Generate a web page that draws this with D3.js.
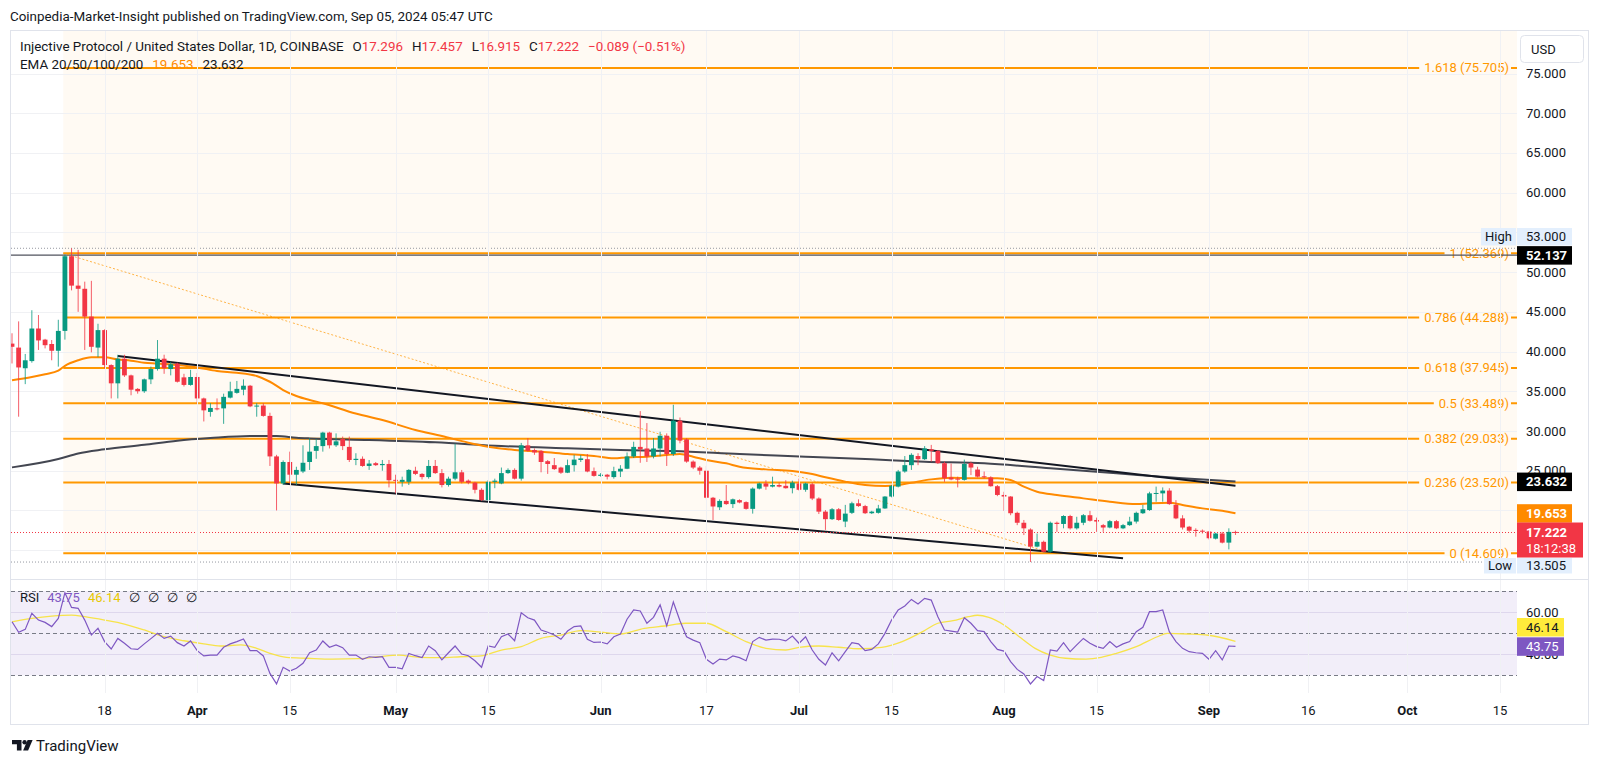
<!DOCTYPE html>
<html><head><meta charset="utf-8">
<script src="https://cdn.jsdelivr.net/npm/d3@7"></script>
<style>
html,body{margin:0;padding:0;background:#fff;}
svg{display:block;font-family:Roboto,"Noto Sans",sans-serif;}
</style></head><body>
<svg id="c" width="1600" height="764"></svg>
<script>
// ---------------- DATA ----------------
const startDate = "2024-03-04";
const opens = [41.0,40.5,37.9,38.8,42.9,41.5,40.95,40.1,42.6,52.0,
48.3,47.9,44.4,40.5,42.7,38.3,36.0,39.1,37.0,35.3,
35.0,36.5,37.8,39.1,37.8,38.5,36.75,35.8,36.8,34.1,
32.4,32.85,32.85,34.2,34.8,35.2,35.7,33.1,33.2,31.9,
26.8,23.4,26.1,24.5,24.9,26.1,27.5,28.1,29.8,28.2,
29.0,28.0,26.35,26.5,25.6,25.95,25.7,25.85,23.85,23.6,
23.6,25.0,24.6,24.2,25.6,24.7,23.2,24.0,24.8,23.75,
23.5,22.6,21.3,23.6,23.4,24.7,25.1,24.0,28.2,27.6,
27.5,26.2,25.7,25.4,24.75,25.7,26.35,26.45,24.95,24.35,
24.5,24.2,24.9,25.25,26.8,28.0,27.8,26.8,27.8,29.4,
27.1,31.3,28.95,26.15,25.4,25.0,21.6,20.4,21.2,20.8,
21.3,21.05,20.2,22.75,23.4,23.0,23.2,23.1,22.8,23.4,
22.6,23.3,21.5,19.85,18.9,20.15,18.6,19.7,20.9,20.55,
19.65,19.7,20.25,21.75,23.0,24.9,25.7,26.85,26.45,27.7,
27.5,25.95,24.15,24.0,23.85,25.95,25.15,24.3,24.15,23.05,
21.95,21.75,19.7,18.45,17.6,15.45,16.05,14.8,18.45,18.3,
19.3,17.75,18.45,19.4,18.8,18.15,17.85,18.65,17.75,18.15,
18.6,19.65,20.05,22.1,22.15,22.5,20.7,19.0,17.95,17.55,
17.45,17.35,16.45,17.1,15.95,17.296];
const highs = [42.3,43.8,39.7,45.2,44.6,41.6,41.45,44.0,52.2,53.0,
52.8,48.8,48.9,43.5,42.8,38.4,39.6,39.6,37.1,35.4,
36.6,38.1,41.45,39.6,38.7,38.6,37.2,37.7,37.3,34.2,
33.5,34.1,34.7,36.2,36.3,36.5,35.8,33.5,33.5,32.3,
27.0,26.3,27.4,25.5,28.2,29.1,29.0,29.9,29.9,29.7,
29.3,29.3,27.2,26.8,26.35,26.1,26.35,26.35,24.5,24.25,
25.2,25.5,24.7,26.35,26.35,25.2,24.25,28.4,25.1,23.9,
23.6,22.8,23.83,24.0,25.4,25.3,25.3,28.5,29.1,27.8,
27.6,26.35,26.6,25.5,26.4,27.0,26.97,27.1,25.4,24.7,
24.6,25.5,25.7,27.3,28.65,32.5,31.0,29.1,29.9,29.7,
33.3,31.7,29.1,26.3,25.6,25.6,21.7,21.4,23.2,21.5,
21.4,21.15,22.9,23.5,23.8,24.25,23.5,23.8,23.75,24.0,
23.5,23.5,21.65,20.05,20.3,20.3,20.7,21.1,21.4,20.7,
19.95,20.7,21.8,23.2,25.1,26.85,27.2,27.2,28.1,28.25,
27.6,26.15,25.9,24.25,26.4,26.15,25.5,24.9,24.3,23.2,
22.35,21.8,19.85,18.8,17.75,17.1,16.2,18.6,18.6,19.4,
19.45,19.2,19.55,19.95,19.1,18.3,18.8,18.8,18.3,19.2,
19.85,20.7,22.35,23.0,22.9,22.8,21.3,19.4,18.05,17.75,
17.6,17.4,17.2,17.3,17.75,17.457];
const lows = [38.5,31.8,35.9,38.6,40.2,40.4,38.9,38.1,41.5,47.7,
45.0,40.2,39.9,39.3,37.9,34.1,34.1,36.8,34.5,34.7,
34.8,35.9,37.6,37.2,37.0,36.1,35.6,35.7,33.5,31.2,
31.8,32.6,30.9,34.1,34.7,34.5,33.0,31.8,31.8,25.6,
20.0,23.2,23.4,23.2,24.7,25.1,26.5,27.4,27.8,28.0,
27.6,26.1,25.7,25.5,25.1,25.6,25.0,22.9,22.15,23.0,
23.2,24.45,23.9,24.0,24.6,22.9,23.0,23.8,23.4,23.3,
22.15,21.2,21.2,22.8,23.3,24.6,23.9,23.75,27.4,27.0,
24.8,24.6,25.1,24.6,24.7,24.9,26.1,24.8,24.25,24.25,
23.9,24.0,24.2,25.2,26.6,26.0,26.1,26.55,26.8,25.6,
26.85,28.45,26.0,25.2,24.5,21.4,18.8,20.05,20.7,20.3,
20.9,20.1,19.6,22.65,22.6,22.9,22.9,22.75,22.15,22.5,
22.35,21.3,19.55,17.55,18.8,18.7,17.9,19.55,20.45,19.55,
19.55,19.6,20.2,21.65,22.9,24.75,25.1,25.7,26.35,26.15,
25.85,23.6,23.8,22.9,23.75,24.45,24.15,24.05,22.99,21.8,
19.95,19.4,18.15,16.9,13.505,15.35,14.7,14.7,17.3,17.75,
17.6,17.6,18.15,18.6,17.3,17.3,17.75,17.65,17.65,18.05,
18.35,19.55,19.95,21.1,21.1,20.7,18.9,17.6,17.2,16.7,
17.1,16.35,16.35,15.85,15.1,16.915];
const closes = [40.6,38.0,38.9,42.9,41.4,40.8,40.1,42.6,52.0,48.3,
47.9,44.4,40.6,42.7,38.3,36.0,39.1,37.0,35.2,35.0,
36.5,37.8,39.1,37.9,38.4,36.2,35.8,36.8,34.1,32.6,
32.9,32.75,34.3,35.0,35.3,35.7,33.1,33.2,31.9,26.8,
23.4,26.1,24.5,25.1,26.0,27.4,28.1,29.8,28.2,28.7,
28.1,26.35,26.5,25.6,25.9,25.7,25.85,23.8,23.75,23.85,
25.1,24.6,24.2,25.6,24.7,23.2,24.0,24.8,23.6,23.5,
22.6,21.3,23.6,23.75,24.7,25.1,24.0,28.2,27.5,27.3,
26.1,25.85,25.2,24.75,25.7,26.4,26.55,24.9,24.35,24.5,
24.25,24.95,25.25,26.8,28.0,27.7,26.8,27.8,29.4,27.1,
31.3,28.8,26.15,25.4,25.0,21.6,20.5,21.2,20.8,21.4,
21.0,20.2,22.75,23.4,23.0,23.2,23.0,22.8,23.5,22.6,
23.4,21.5,19.85,18.9,20.15,18.8,19.6,20.9,20.55,19.65,
19.85,20.25,21.75,23.1,24.9,25.7,27.0,26.45,27.8,27.5,
25.95,24.05,23.9,23.9,25.85,25.4,24.25,24.2,23.05,21.95,
21.75,19.65,18.45,17.75,15.45,16.05,14.8,18.45,18.3,19.3,
17.75,18.45,19.4,18.7,18.6,17.85,18.65,17.75,18.15,18.6,
19.7,20.15,22.15,22.2,22.5,20.8,19.0,17.85,17.45,17.45,
17.35,16.5,17.1,15.95,17.3,17.222];

const rsiValues = [55.4,50.4,51.8,59.4,56.2,55.1,53.1,57.0,69.2,62.2,
61.8,56.2,49.1,52.3,46.0,42.5,47.5,45.2,42.6,42.3,
44.9,47.4,49.9,47.5,48.6,45.5,43.9,46.3,41.7,39.2,
39.6,39.6,43.3,44.9,46.0,47.2,41.7,41.7,39.2,30.9,
25.9,33.8,32.0,33.3,35.7,40.7,42.0,46.3,43.3,44.4,
43.1,39.6,39.6,37.6,38.8,38.5,38.8,33.8,33.8,33.1,
40.4,39.3,38.4,43.9,41.7,37.3,40.7,43.9,40.1,39.3,
36.9,33.8,43.9,43.3,48.3,49.6,46.4,59.7,57.3,56.2,
51.5,50.4,49.1,47.1,51.0,53.1,53.4,47.1,45.6,45.8,
44.9,48.3,49.6,56.6,61.0,60.5,54.7,57.5,63.4,53.4,
64.8,55.9,48.3,46.7,45.5,37.6,35.4,37.7,37.3,39.2,
38.4,36.9,46.0,48.0,46.7,47.2,47.1,46.3,48.6,45.2,
48.3,42.0,37.6,34.9,40.7,36.9,41.2,45.5,44.9,41.7,
42.3,44.9,49.9,56.2,61.0,62.9,66.0,63.8,66.5,65.7,
57.8,51.5,51.0,50.5,57.3,54.7,51.2,50.7,46.0,42.3,
41.5,36.5,32.8,30.6,25.9,29.4,27.5,42.0,41.5,45.5,
41.2,44.4,47.5,45.2,43.6,42.8,46.0,43.3,44.9,46.0,
50.7,52.8,60.2,60.2,61.0,50.7,46.0,42.8,41.2,40.7,
40.4,37.6,41.7,37.3,43.9,43.75];

const rsiMaDays = [0,3,6,9,11,14,17,20,23,26,29,31.5,34.6,37,39,41.5,44.6,48.5,52.4,55.4,
58.5,61.6,64.7,67.8,70.9,74,77,80,83,86,89,92,95.6,98.7,101.8,104.9,108,111,114,117,
119,122,125,128,131.5,134.6,137.7,140,142.3,144.6,146,147.7,150,152.3,154.7,157,159.3,162.4,164.7,167,
170,173.2,174.7,177.8,180.9,185];
const rsiMaValues = [55.4,57.0,58.1,58.6,57.8,56.2,54.3,51.5,48.3,46.4,44.9,43.9,44.4,42.8,40.4,38.5,38.1,37.7,37.9,38.8,
39.6,38.5,38.4,38.8,39.2,42.0,43.6,47.5,49.1,51.2,50.5,49.6,52.3,53.4,54.7,54.7,50.7,46.0,42.8,42.0,
43.3,43.9,43.3,42.6,43.3,46.0,50.7,54.7,55.9,57.8,58.5,57.5,53.9,48.3,42.8,39.6,38.1,37.7,38.5,40.4,
43.6,48.3,49.9,49.6,49.0,46.14];

const ema50Days = [0,3,5,7,8,10,12,14,16,18,20,22,25,28,31,34,37,39,41,43,45,47,51,56,61,65,69,72,76,80,84,88,91,93,96,99,101,103,105,108,110,114,118,121,123,126,129,132,134,136,139,142,145,149,151,153,155,158,162,166,170,172,175,177,180,183,185];
const ema50Values = [36.4,36.8,37.15,37.6,38.2,38.9,39.27,39.27,39.0,38.85,38.6,38.5,38.3,38.0,37.55,37.34,36.92,36.2,35.16,34.4,33.9,33.5,32.43,31.38,30.13,29.37,28.53,28.03,27.61,27.4,27.1,26.85,26.56,26.68,26.77,26.98,27.1,26.77,26.35,25.93,25.51,25.17,24.96,24.58,24.17,23.62,23.2,23.07,23.2,23.49,23.91,24.12,24.04,24.04,23.83,22.99,22.36,21.94,21.52,21.1,20.8,20.89,20.97,20.68,20.26,19.97,19.653];
const ema200Days = [0,7,10,14,20,25,30,36,40,43,45,54,64,74,84,92,100,110,120,130,138,147,157,167,177,185];
const ema200Values = [25.42,26.47,27.18,27.69,28.27,28.78,29.11,29.37,29.37,29.16,29.07,28.87,28.57,28.11,27.82,27.61,27.48,27.1,26.77,26.43,26.14,25.93,25.3,24.67,24.04,23.632];

const fibRatios = ["1.618","1","0.786","0.618","0.5","0.382","0.236","0"];
const fibValues = [75.705,52.369,44.288,37.945,33.489,29.033,23.520,14.609];
const fibStartDay = 7.75, fibEndDay = 157.3;

const upperTrendDays = [16, 185];
const upperTrendValues = [39.45, 23.1];
const lowerTrendDays = [41, 168];
const lowerTrendValues = [23.4, 13.98];

const priceTicks = [75,70,65,60,55,50,45,40,35,30,25,20,15];
const priceLabelTicks = [75,70,65,60,50,45,40,35,30,25];
const rsiTicks = [60,40];
const timeTickDates = ["2024-03-18","2024-04-01","2024-04-15","2024-05-01","2024-05-15","2024-06-01","2024-06-17","2024-07-01","2024-07-15","2024-08-01","2024-08-15","2024-09-01","2024-09-16","2024-10-01","2024-10-15"];
const timeTickLabels = ["18","Apr","15","May","15","Jun","17","Jul","15","Aug","15","Sep","16","Oct","15"];

const legendOHLC = [["O", 17.296], ["H", 17.457], ["L", 16.915], ["C", 17.222]];
const lastClose = 17.222, visHigh = 53.0, visLow = 13.505, hLine = 52.137;
const ema50Last = 19.653, ema200Last = 23.632, rsiLast = 43.75, rsiMaLast = 46.14;

// ---------------- LAYOUT ----------------
const svg = d3.select("#c");
const L = 11, R = 1517, mainTop = 31, mainBot = 579, rsiTop = 579, rsiBot = 693;
const GREEN = "#089981", RED = "#f23645", ORANGE = "#ff9800", EMA_OR = "#ff8a00", DARK = "#131722";
const BEIGE = "#fffaf3";
const t0 = new Date(startDate + "T00:00:00Z");
const dayDate = d => new Date(t0.getTime() + d * 86400000);

const x = d3.scaleUtc().domain([new Date("2024-03-18T00:00:00Z"), new Date("2024-10-15T00:00:00Z")]).range([104.6, 1500]);
const y = d3.scaleLinear().domain([30, 75]).range([431, 73.5]);
const yr = d3.scaleLinear().domain([30, 70]).range([675.3, 591]);

svg.append("rect").attr("width", 1600).attr("height", 764).attr("fill", "#fff");

const defs = svg.append("defs");
defs.append("clipPath").attr("id", "cm").append("rect").attr("x", L).attr("y", mainTop).attr("width", R - L).attr("height", mainBot - mainTop);
defs.append("clipPath").attr("id", "cr").append("rect").attr("x", L).attr("y", rsiTop).attr("width", R - L).attr("height", rsiBot - rsiTop);

// header
svg.append("text").attr("x", 10).attr("y", 21).attr("font-size", 13.4).attr("fill", DARK)
  .text("Coinpedia-Market-Insight published on TradingView.com, Sep 05, 2024 05:47 UTC");

// frame
svg.append("rect").attr("x", 10.5).attr("y", 30.5).attr("width", 1578).attr("height", 694)
  .attr("fill", "#fff").attr("stroke", "#e0e3eb");

const gm = svg.append("g").attr("clip-path", "url(#cm)");
const gr = svg.append("g").attr("clip-path", "url(#cr)");

// fib background
const fx0 = x(dayDate(fibStartDay));
gm.append("rect").attr("x", fx0).attr("y", mainTop).attr("width", R - fx0).attr("height", y(fibValues[7]) - mainTop).attr("fill", BEIGE);

// grids
priceTicks.forEach(p => gm.append("line").attr("x1", L).attr("x2", R).attr("y1", Math.round(y(p)) + 0.5).attr("y2", Math.round(y(p)) + 0.5).attr("stroke", "#f0f1f4"));
rsiTicks.forEach(p => gr.append("line").attr("x1", L).attr("x2", R).attr("y1", Math.round(yr(p)) + 0.5).attr("y2", Math.round(yr(p)) + 0.5).attr("stroke", "#e9e6f2"));
timeTickDates.forEach(d => {
  const xx = Math.round(x(new Date(d + "T00:00:00Z"))) + 0.5;
  svg.append("line").attr("x1", xx).attr("x2", xx).attr("y1", mainTop).attr("y2", rsiBot).attr("stroke", "#f0f1f4");
});

// RSI band
gr.append("rect").attr("x", L).attr("y", yr(70)).attr("width", R - L).attr("height", yr(30) - yr(70)).attr("fill", "#7e57c2").attr("fill-opacity", 0.1);
[70, 50, 30].forEach(v => gr.append("line").attr("x1", L).attr("x2", R).attr("y1", Math.round(yr(v)) + 0.5).attr("y2", Math.round(yr(v)) + 0.5)
  .attr("stroke", "#787b86").attr("stroke-dasharray", "4,3"));

// dotted high/low lines
gm.append("line").attr("x1", L).attr("x2", R).attr("y1", y(visHigh)).attr("y2", y(visHigh)).attr("stroke", "#9598a1").attr("stroke-dasharray", "1,2");
gm.append("line").attr("x1", L).attr("x2", R).attr("y1", y(visLow)).attr("y2", y(visLow)).attr("stroke", "#9598a1").attr("stroke-dasharray", "1,2");

// fib lines + labels
fibValues.forEach((v, i) => {
  const yy = y(v);
  gm.append("line").attr("x1", fx0).attr("x2", R).attr("y1", yy).attr("y2", yy).attr("stroke", ORANGE).attr("stroke-width", 2);
  const t = gm.append("text").attr("x", 1509).attr("y", yy).attr("text-anchor", "end").attr("dominant-baseline", "central")
    .attr("font-size", 13).attr("fill", ORANGE).text(`${fibRatios[i]} (${v.toFixed(3)})`);
  const bb = t.node().getBBox();
  gm.insert("rect", () => t.node()).attr("x", bb.x - 5).attr("y", yy - 3).attr("width", bb.width + 7).attr("height", 6).attr("fill", BEIGE);
});

// horizontal ray at 52.137
gm.append("line").attr("x1", L).attr("x2", R).attr("y1", y(hLine)).attr("y2", y(hLine)).attr("stroke", "#50535e").attr("stroke-width", 1.2);

// fib diagonal dotted
gm.append("line").attr("x1", fx0).attr("y1", y(fibValues[1])).attr("x2", x(dayDate(fibEndDay))).attr("y2", y(fibValues[7]))
  .attr("stroke", ORANGE).attr("stroke-width", 1).attr("stroke-dasharray", "2,2").attr("opacity", 0.7);

// EMA lines
const emaLine = d3.line().x(d => x(dayDate(d[0]))).y(d => y(d[1])).curve(d3.curveMonotoneX);
gm.append("path").datum(ema200Days.map((d, i) => [d, ema200Values[i]])).attr("d", emaLine)
  .attr("fill", "none").attr("stroke", "#434651").attr("stroke-width", 2);
gm.append("path").datum(ema50Days.map((d, i) => [d, ema50Values[i]])).attr("d", emaLine)
  .attr("fill", "none").attr("stroke", EMA_OR).attr("stroke-width", 2);

// trend lines
gm.append("line").attr("x1", x(dayDate(upperTrendDays[0]))).attr("y1", y(upperTrendValues[0])).attr("x2", x(dayDate(upperTrendDays[1]))).attr("y2", y(upperTrendValues[1]))
  .attr("stroke", "#131722").attr("stroke-width", 2);
gm.append("line").attr("x1", x(dayDate(lowerTrendDays[0]))).attr("y1", y(lowerTrendValues[0])).attr("x2", x(dayDate(lowerTrendDays[1]))).attr("y2", y(lowerTrendValues[1]))
  .attr("stroke", "#131722").attr("stroke-width", 2);

// close line
gm.append("line").attr("x1", L).attr("x2", R).attr("y1", y(lastClose)).attr("y2", y(lastClose)).attr("stroke", RED).attr("stroke-dasharray", "1,2");

// candles
const cw = 4.8;
const candles = opens.map((o, i) => ({ d: dayDate(i), o, h: highs[i], l: lows[i], c: closes[i] }));
const cg = gm.append("g");
candles.forEach(k => {
  const col = k.c >= k.o ? GREEN : RED;
  const cx = x(k.d);
  cg.append("line").attr("x1", cx).attr("x2", cx).attr("y1", y(k.h)).attr("y2", y(k.l)).attr("stroke", col).attr("stroke-width", 1).attr("stroke-opacity", 0.8);
  const top = y(Math.max(k.o, k.c)), bot = y(Math.min(k.o, k.c));
  cg.append("rect").attr("x", cx - cw / 2).attr("y", top).attr("width", cw).attr("height", Math.max(1, bot - top)).attr("fill", col);
});

// RSI lines
gr.append("path").datum(rsiMaDays.map((d, i) => [d, rsiMaValues[i]]))
  .attr("d", d3.line().x(d => x(dayDate(d[0]))).y(d => yr(d[1])).curve(d3.curveMonotoneX))
  .attr("fill", "none").attr("stroke", "#f7e34a").attr("stroke-width", 1.3);
gr.append("path").datum(rsiValues.map((v, i) => [i, v]))
  .attr("d", d3.line().x(d => x(dayDate(d[0]))).y(d => yr(d[1])))
  .attr("fill", "none").attr("stroke", "#7e57c2").attr("stroke-width", 1.2);

// pane separator
svg.append("line").attr("x1", 10.5).attr("x2", 1588.5).attr("y1", 579.5).attr("y2", 579.5).attr("stroke", "#e0e3eb");

// legend
const lg1 = svg.append("text").attr("y", 51).attr("font-size", 13.4).attr("fill", DARK);
lg1.append("tspan").attr("x", 20).text("Injective Protocol / United States Dollar, 1D, COINBASE");
legendOHLC.forEach(([k, v]) => {
  lg1.append("tspan").attr("dx", 9).attr("fill", DARK).text(k);
  lg1.append("tspan").attr("fill", RED).text(v.toFixed(3));
});
lg1.append("tspan").attr("dx", 9).attr("fill", RED).text("\u22120.089 (\u22120.51%)");
const lg2 = svg.append("text").attr("y", 69).attr("font-size", 13.4).attr("fill", DARK);
lg2.append("tspan").attr("x", 20).text("EMA 20/50/100/200");
lg2.append("tspan").attr("dx", 9).attr("fill", EMA_OR).text(ema50Last.toFixed(3));
lg2.append("tspan").attr("dx", 9).attr("fill", DARK).text(ema200Last.toFixed(3));

const lg3 = svg.append("text").attr("y", 601.5).attr("font-size", 13).attr("fill", DARK);
lg3.append("tspan").attr("x", 20).text("RSI");
lg3.append("tspan").attr("dx", 8).attr("fill", "#7e57c2").text(rsiLast.toFixed(2));
lg3.append("tspan").attr("dx", 8).attr("fill", "#e8c800").text(rsiMaLast.toFixed(2));
[0, 1, 2, 3].forEach(() => lg3.append("tspan").attr("dx", 8).attr("fill", DARK).text("\u2205"));

// price axis labels
priceLabelTicks.forEach(p => svg.append("text").attr("x", 1526).attr("y", y(p)).attr("dominant-baseline", "central")
  .attr("font-size", 13).attr("fill", DARK).text(p.toFixed(3)));
rsiTicks.forEach(p => svg.append("text").attr("x", 1526).attr("y", yr(p)).attr("dominant-baseline", "central")
  .attr("font-size", 13).attr("fill", DARK).text(p.toFixed(2)));

// USD box
svg.append("rect").attr("x", 1520.5).attr("y", 35.5).attr("width", 63).attr("height", 27).attr("rx", 4).attr("fill", "#fff").attr("stroke", "#e0e3eb");
svg.append("text").attr("x", 1531).attr("y", 49).attr("dominant-baseline", "central").attr("font-size", 13).attr("fill", DARK).text("USD");

// tags
function tag(x0, y0, w, h, bg, fg, txt, bold, anchor) {
  svg.append("rect").attr("x", x0).attr("y", y0).attr("width", w).attr("height", h).attr("fill", bg);
  svg.append("text").attr("x", anchor === "middle" ? x0 + w / 2 : x0 + 9).attr("y", y0 + h / 2).attr("dominant-baseline", "central")
    .attr("text-anchor", anchor === "middle" ? "middle" : "start")
    .attr("font-size", 13).attr("font-weight", bold ? 700 : 400).attr("fill", fg).text(txt);
}
tag(1481, 228, 35, 17.5, "#e3effd", DARK, "High", false, "middle");
tag(1517, 228, 55, 17.5, "#e3effd", DARK, visHigh.toFixed(3), false);
tag(1517, y(hLine) - 9, 55, 18.5, "#000", "#fff", hLine.toFixed(3), true);
tag(1517, y(ema200Last) - 9, 55, 18.5, "#000", "#fff", ema200Last.toFixed(3), true);
tag(1517, y(ema50Last) - 9, 55, 18.5, EMA_OR, "#fff", ema50Last.toFixed(3), true);
svg.append("rect").attr("x", 1517).attr("y", y(lastClose) - 10).attr("width", 66).attr("height", 35).attr("fill", RED);
svg.append("text").attr("x", 1526).attr("y", y(lastClose)).attr("dominant-baseline", "central").attr("font-size", 13).attr("font-weight", 700).attr("fill", "#fff").text(lastClose.toFixed(3));
svg.append("text").attr("x", 1526).attr("y", y(lastClose) + 16).attr("dominant-baseline", "central").attr("font-size", 13).attr("fill", "#fff").text("18:12:38");
tag(1484, 558, 32, 15.5, "#e3effd", DARK, "Low", false, "middle");
tag(1517, 558, 55, 15.5, "#e3effd", DARK, visLow.toFixed(3), false);
tag(1517, 618, 47, 18.5, "#ffeb3b", DARK, rsiMaLast.toFixed(2), false);
tag(1517, yr(rsiLast) - 9, 47, 18.5, "#7e57c2", "#fff", rsiLast.toFixed(2), false);

// time axis
timeTickDates.forEach((d, i) => {
  const lab = timeTickLabels[i];
  svg.append("text").attr("x", x(new Date(d + "T00:00:00Z"))).attr("y", 710).attr("dominant-baseline", "central").attr("text-anchor", "middle")
    .attr("font-size", 13).attr("font-weight", isNaN(+lab) ? 700 : 400).attr("fill", DARK).text(lab);
});

// TradingView logo
const lgG = svg.append("g").attr("fill", DARK);
lgG.append("path").attr("d", "M12 740 h9.5 v10.5 h-4.6 v-6.2 h-4.9 z");
lgG.append("circle").attr("cx", 24.6).attr("cy", 742.2).attr("r", 2.2);
lgG.append("path").attr("d", "M27.6 740 h5 l-4.5 10.5 h-5 z");
svg.append("text").attr("x", 36).attr("y", 746).attr("dominant-baseline", "central").attr("font-size", 15).attr("fill", DARK).text("TradingView");
</script>
</body></html>
